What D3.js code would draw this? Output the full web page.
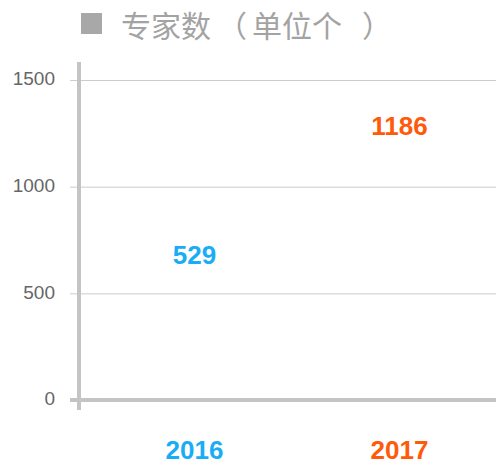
<!DOCTYPE html>
<html>
<head>
<meta charset="utf-8">
<script src="https://cdn.jsdelivr.net/npm/d3@7"></script>
<style>
  body { margin: 0; background: #fff; }
  svg { display: block; }
</style>
</head>
<body>
<div id="chart"></div>
<script>
// data
var years = ['2016', '2017'];
var experts = [529, 1186];
var yTicks = [0, 500, 1000, 1500];
var titleParts = ['专家数', '（', '单位个', '）'];
var colors = ['#18adf6', '#ff5a0a'];

var w = 496;
var h = 470;

var svg = d3.select('#chart')
     .append('svg')
     .attr('width', w)
     .attr('height', h);

var y = d3.scaleLinear()
     .domain([0, 1500])
     .range([400, 80]);

// labels sit on a slightly squeezed track above the value
var labelY = y.copy().range([368, 73]);

var x = d3.scaleBand()
     .domain(years)
     .range([92, 502]);

// title
svg.append('rect')
     .attr('x', 81)
     .attr('y', 13)
     .attr('width', 21)
     .attr('height', 21)
     .attr('fill', '#a8a8a8');

var title = svg.append('text')
     .attr('x', 121)
     .attr('y', 37)
     .attr('font-family', '"Noto Sans CJK SC", sans-serif')
     .attr('font-size', 30)
     .attr('fill', '#a3a3a3');

var titleDx = [0, 6, 5, 20];
title.selectAll('tspan')
     .data(titleParts)
     .enter()
     .append('tspan')
     .attr('dx', (d, i) => titleDx[i])
     .text(d => d);

// grid + y axis
var yAxis = d3.axisLeft(y)
     .tickValues(yTicks)
     .tickFormat(d3.format('d'))
     .tickSize(-(w - 70))
     .tickPadding(15);

var gy = svg.append('g')
     .attr('transform', 'translate(70,0)')
     .call(yAxis);

gy.select('.domain').remove();
gy.selectAll('.tick line')
     .attr('stroke', '#cccccc');
gy.selectAll('.tick text')
     .attr('font-family', '"Liberation Sans", Arial, sans-serif')
     .attr('font-size', 19)
     .attr('fill', '#666')
     .attr('x', -15)
     .attr('dy', '0.25em')
     .attr('text-anchor', 'end');

// thick axis lines
svg.append('line')
     .attr('x1', 79).attr('x2', 79)
     .attr('y1', 62).attr('y2', 410)
     .attr('stroke', '#c4c4c4')
     .attr('stroke-width', 4);

svg.append('line')
     .attr('x1', 70).attr('x2', w)
     .attr('y1', y(0)).attr('y2', y(0))
     .attr('stroke', '#c4c4c4')
     .attr('stroke-width', 4);

// value labels
svg.selectAll('.val')
     .data(experts)
     .enter()
     .append('text')
     .attr('class', 'val')
     .attr('x', (d, i) => x(years[i]) + x.bandwidth() / 2)
     .attr('y', d => labelY(d))
     .attr('text-anchor', 'middle')
     .attr('font-family', '"Liberation Sans", Arial, sans-serif')
     .attr('font-weight', 'bold')
     .attr('font-size', 26)
     .attr('fill', (d, i) => colors[i])
     .text(d => d);

// category labels
svg.selectAll('.cat')
     .data(years)
     .enter()
     .append('text')
     .attr('class', 'cat')
     .attr('x', d => x(d) + x.bandwidth() / 2)
     .attr('y', 459)
     .attr('text-anchor', 'middle')
     .attr('font-family', '"Liberation Sans", Arial, sans-serif')
     .attr('font-weight', 'bold')
     .attr('font-size', 26)
     .attr('fill', (d, i) => colors[i])
     .text(d => d);
</script>
</body>
</html>
